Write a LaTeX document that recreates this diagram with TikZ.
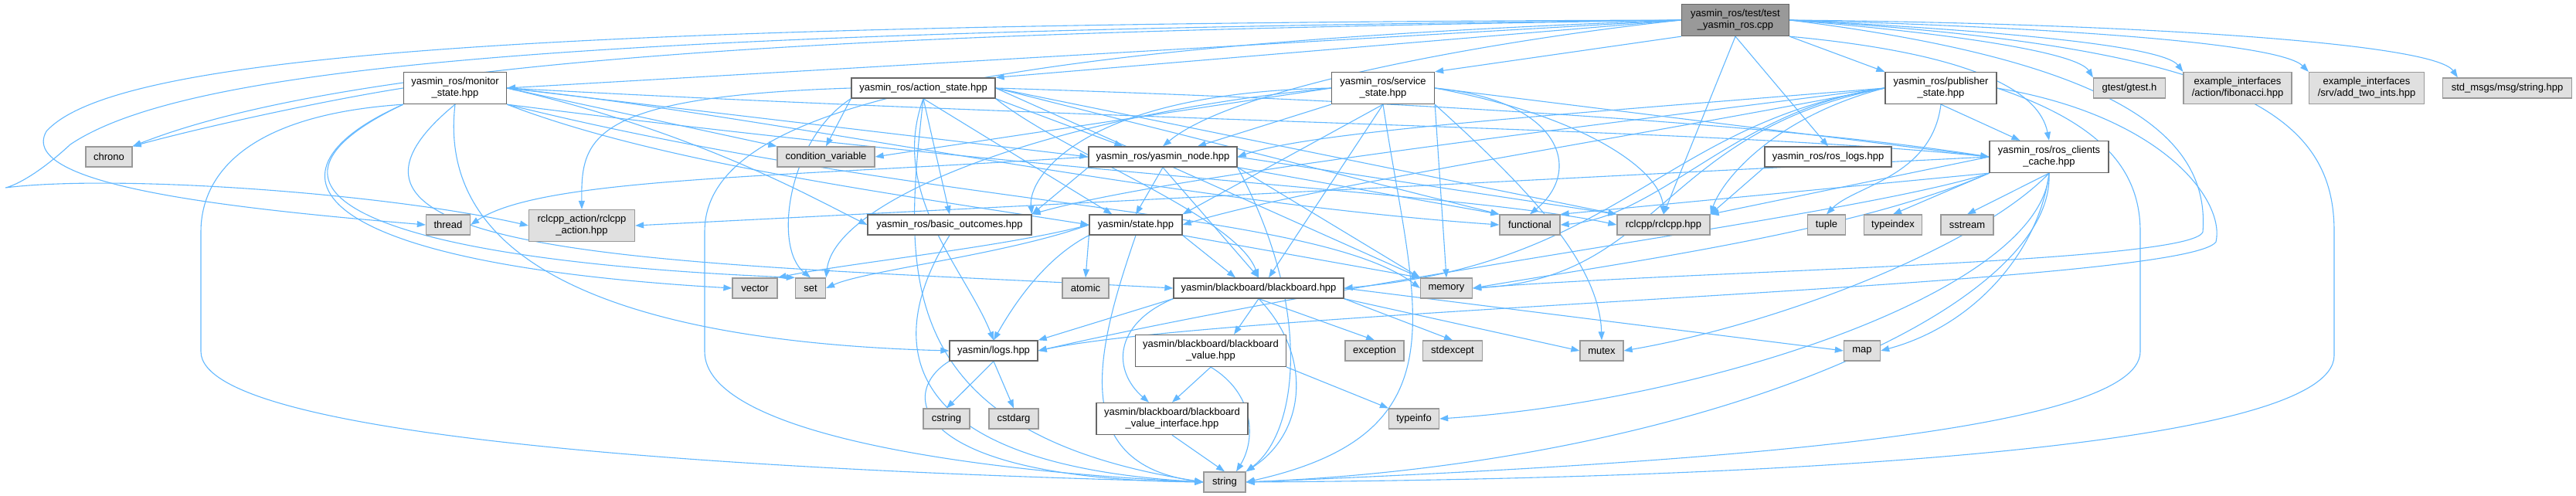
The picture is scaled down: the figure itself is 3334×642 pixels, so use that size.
\documentclass[tikz,border=0pt]{standalone}
\usepackage{fontspec}
\setmainfont{Liberation Sans}
\usetikzlibrary{arrows.meta}

\definecolor{depblue}{HTML}{63B8FF}
\definecolor{hdrline}{HTML}{666666}
\definecolor{sysfill}{HTML}{E0E0E0}
\definecolor{sysline}{HTML}{999999}
\definecolor{srcfill}{HTML}{999999}

\pgfdeclarelayer{bg}
\pgfsetlayers{bg,main}

\tikzset{
  hdr/.style={draw=hdrline, fill=white, line width=1.3pt, inner sep=0pt,
    minimum height=26pt, align=center, font=\fontsize{13}{15}\selectfont},
  sysh/.style={hdr, draw=sysline, fill=sysfill},
  srcf/.style={hdr, draw=hdrline, fill=srcfill},
  tall/.style={minimum height=41pt},
  wd/.style={minimum width=#1},
  dep/.style={draw=depblue, line width=1.1pt, -{Triangle[length=11pt,width=8pt]}}
}

\begin{document}
\begin{tikzpicture}[x=1pt, y=-1pt]
  \useasboundingbox (0,0) rectangle (3334,642);
  % 第一行
  \node[srcf, tall, wd=139] (test) at (2246,26) {yasmin\_ros/test/test\\\_yasmin\_ros.cpp};
  % 第二行
  \node[hdr, tall, wd=133] (monitor) at (589,114) {yasmin\_ros/monitor\\\_state.hpp};
  \node[hdr, wd=186] (action) at (1195,114) {yasmin\_ros/action\_state.hpp};
  \node[hdr, tall, wd=133] (service) at (1790,114) {yasmin\_ros/service\\\_state.hpp};
  \node[hdr, tall, wd=144] (publisher) at (2512,114) {yasmin\_ros/publisher\\\_state.hpp};
  \node[sysh, wd=93] (gtest) at (2756,114) {gtest/gtest.h};
  \node[sysh, tall, wd=140] (fibo) at (2896,114) {example\_interfaces\\/action/fibonacci.hpp};
  \node[sysh, tall, wd=149] (addtwo) at (3063,114) {example\_interfaces\\/srv/add\_two\_ints.hpp};
  \node[sysh, wd=167] (stdmsg) at (3245,114) {std\_msgs/msg/string.hpp};
  % 第三行
  \node[sysh, wd=60] (chrono) at (141,203) {chrono};
  \node[sysh, wd=126] (condvar) at (1069,203) {condition\_variable};
  \node[hdr, wd=192] (ynode) at (1505,203) {yasmin\_ros/yasmin\_node.hpp};
  \node[hdr, wd=164] (roslogs) at (2366,203) {yasmin\_ros/ros\_logs.hpp};
  \node[hdr, tall, wd=154] (cache) at (2652,203) {yasmin\_ros/ros\_clients\\\_cache.hpp};
  % 第四行
  \node[sysh, wd=57] (thread) at (580,291) {thread};
  \node[sysh, tall, wd=137] (rclaction) at (753,292) {rclcpp\_action/rclcpp\\\_action.hpp};
  \node[hdr, wd=212] (outcomes) at (1229,291) {yasmin\_ros/basic\_outcomes.hpp};
  \node[hdr, wd=120] (state) at (1470,291) {yasmin/state.hpp};
  \node[sysh, wd=78] (functional) at (1980,291) {functional};
  \node[sysh, wd=120] (rclcpp) at (2153,291) {rclcpp/rclcpp.hpp};
  \node[sysh, wd=49] (tuple) at (2364,291) {tuple};
  \node[sysh, wd=75] (typeindex) at (2450,291) {typeindex};
  \node[sysh, wd=68] (sstream) at (2546,291) {sstream};
  % 第五行
  \node[sysh, wd=58] (vector) at (977,373) {vector};
  \node[sysh, wd=39] (set) at (1049,373) {set};
  \node[sysh, wd=60] (atomic) at (1405,373) {atomic};
  \node[hdr, wd=220] (blackboard) at (1629,373) {yasmin/blackboard/blackboard.hpp};
  \node[sysh, wd=67] (memory) at (1872,373) {memory};
  % 第六行
  \node[hdr, wd=114] (logs) at (1286,454) {yasmin/logs.hpp};
  \node[hdr, tall, wd=195] (bbvalue) at (1567,454) {yasmin/blackboard/blackboard\\\_value.hpp};
  \node[sysh, wd=76] (exception) at (1779,454) {exception};
  \node[sysh, wd=77] (stdexcept) at (1880,454) {stdexcept};
  \node[sysh, wd=56] (mutex) at (2073,454) {mutex};
  \node[sysh, wd=47] (map) at (2410,454) {map};
  % 第七行
  \node[sysh, wd=60] (cstring) at (1225,542) {cstring};
  \node[sysh, wd=64] (cstdarg) at (1312,542) {cstdarg};
  \node[hdr, tall, wd=196] (bbiface) at (1517,542) {yasmin/blackboard/blackboard\\\_value\_interface.hpp};
  \node[sysh, wd=65] (typeinfo) at (1830,542) {typeinfo};
  \node[sysh, wd=54] (string) at (1585,624) {string};

  \begin{pgfonlayer}{bg}
  % test_yasmin_ros.cpp
  \draw[dep] (test.west) -- (monitor.east);
  \draw[dep] (test.west) -- (action.north east);
  \draw[dep] (test.south west) -- (service.north east);
  \draw[dep] (test.south east) -- (publisher.north west);
  \draw[dep] (test.east) .. controls (2550,45) and (2690,70) .. (gtest.north west);
  \draw[dep] (test.east) .. controls (2600,40) and (2800,60) .. (fibo.north west);
  \draw[dep] (test.east) .. controls (2650,35) and (2950,55) .. (addtwo.north west);
  \draw[dep] (test.east) .. controls (2750,30) and (3150,55) .. ([xshift=20]stdmsg.north west);
  \draw[dep] (test.south) -- (roslogs.north);
  \draw[dep] (test.south) -- (rclcpp.north);
  \draw[dep] (test.south east) .. controls (2560,70) and (2640,120) .. (cache.north);
  \draw[dep] (test.west) .. controls (1950,50) and (1600,110) .. (ynode.north);
  \draw[dep] (test.west) .. controls (1300,40) and (500,60) .. (chrono.north east);
  \draw[dep] (test.west) .. controls (700,30) and (150,70) .. (60,170)
    .. controls (20,240) and (300,270) .. (thread.west);
  \draw[dep] (test.west) .. controls (800,40) and (250,80) .. (91,187)
    .. controls (50,225) and (20,240) .. (7,243)
    .. controls (150,225) and (500,250) .. (rclaction.west);
  \draw[dep] (test.west) .. controls (1250,60) and (912,140) .. (912,300) -- (912,455)
    .. controls (912,560) and (1250,610) .. (string.west);
  \draw[dep] (test.east) .. controls (2900,60) and (3021,150) .. (3021,300) -- (3021,460)
    .. controls (3021,580) and (2300,620) .. (string.east);
  \draw[dep] (test.east) .. controls (2750,80) and (2860,180) .. (2851,300)
    .. controls (2840,340) and (2200,350) .. (memory.east);

  % monitor_state.hpp
  \draw[dep] (monitor.west) .. controls (420,130) and (260,165) .. (chrono.north east);
  \draw[dep] (monitor.east) -- (condvar.north west);
  \draw[dep] (monitor.east) -- (ynode.west);
  \draw[dep] (monitor.south east) .. controls (850,210) and (1150,250) .. (state.west);
  \draw[dep] (monitor.east) .. controls (900,170) and (1050,255) .. (outcomes.west);
  \draw[dep] (monitor.east) .. controls (1000,150) and (1500,260) .. (functional.west);
  \draw[dep] (monitor.south east) .. controls (1400,230) and (1900,250) .. (rclcpp.west);
  \draw[dep] (monitor.south east) .. controls (1200,270) and (1700,270) .. (memory.west);
  \draw[dep] (monitor.east) .. controls (1500,160) and (2200,165) .. (cache.west);
  \draw[dep] (monitor.south west) .. controls (330,220) and (380,340) .. (vector.west);
  \draw[dep] (monitor.south west) .. controls (300,240) and (450,335) .. (set.north west);
  \draw[dep] (monitor.south) .. controls (340,340) and (900,340) .. (blackboard.west);
  \draw[dep] (monitor.south) .. controls (560,380) and (900,445) .. (logs.west);
  \draw[dep] (monitor.south west) .. controls (300,150) and (260,240) .. (260,300) -- (260,455)
    .. controls (260,570) and (1000,610) .. (string.west);

  % action_state.hpp
  \draw[dep] (action.south west) -- (condvar.north);
  \draw[dep] (action.south east) -- ([xshift=45]ynode.north west);
  \draw[dep] (action.south) -- (outcomes.north);
  \draw[dep] (action.south) -- ([xshift=30]state.north west);
  \draw[dep] (action.west) .. controls (760,125) and (752,180) .. (rclaction.north);
  \draw[dep] (action.south west) .. controls (1020,180) and (1000,320) .. (set.north);
  \draw[dep] (action.east) -- (functional.north west);
  \draw[dep] (action.east) -- (rclcpp.north west);
  \draw[dep] (action.east) -- (memory.north west);
  \draw[dep] (action.south east) .. controls (1380,200) and (1600,280) .. (blackboard.north);
  \draw[dep] (action.east) .. controls (1800,130) and (2300,160) .. (cache.west);
  \draw[dep] (action.south) .. controls (1150,250) and (1250,350) .. (logs.north);
  \draw[dep] (action.south) .. controls (1170,350) and (1150,560) .. (string.west);

  % service_state.hpp
  \draw[dep] (service.west) -- (condvar.east);
  \draw[dep] (service.south west) -- ([xshift=45]ynode.north);
  \draw[dep] (service.west) .. controls (1400,120) and (1330,230) .. (outcomes.north east);
  \draw[dep] (service.south) -- (state.north east);
  \draw[dep] (service.east) .. controls (2020,130) and (2050,220) .. (functional.north);
  \draw[dep] (service.east) .. controls (2050,150) and (2150,220) .. (rclcpp.north);
  \draw[dep] (service.south) -- ([xshift=13]blackboard.north);
  \draw[dep] (service.south east) -- (memory.north);
  \draw[dep] (service.west) .. controls (1350,150) and (1080,260) .. (set.north east);
  \draw[dep] (service.south east) .. controls (1950,220) and (2070,330) .. (mutex.north);
  \draw[dep] (service.east) -- (cache.west);
  \draw[dep] (service.south) .. controls (1830,400) and (1900,560) .. (string.east);

  % publisher_state.hpp
  \draw[dep] (publisher.west) .. controls (2000,150) and (1700,170) .. (ynode.east);
  \draw[dep] (publisher.west) .. controls (2000,170) and (1500,230) .. (outcomes.north east);
  \draw[dep] (publisher.west) .. controls (2100,180) and (1700,240) .. (state.east);
  \draw[dep] (publisher.west) .. controls (2150,160) and (2100,340) .. (blackboard.east);
  \draw[dep] (publisher.west) .. controls (2150,170) and (2150,360) .. (memory.east);
  \draw[dep] (publisher.south) -- ([xshift=40]cache.north west);
  \draw[dep] (publisher.west) .. controls (2300,150) and (2230,230) .. (rclcpp.north east);
  \draw[dep] (publisher.west) .. controls (2250,140) and (2150,280) .. (functional.east);
  \draw[dep] (publisher.south) .. controls (2500,230) and (2400,240) .. (tuple.north);
  \draw[dep] (publisher.east) .. controls (2800,150) and (2880,260) .. (2868,313)
    .. controls (2830,370) and (1600,400) .. (logs.east);
  \draw[dep] (publisher.east) .. controls (2720,160) and (2770,220) .. (2770,300) -- (2770,455)
    .. controls (2770,560) and (2200,600) .. (string.east);

  % ros_clients_cache.hpp
  \draw[dep] (cache.west) -- (rclaction.east);
  \draw[dep] (cache.west) -- (rclcpp.north east);
  \draw[dep] (cache.south west) -- (functional.north east);
  \draw[dep] (cache.south west) -- (typeindex.north);
  \draw[dep] (cache.south) -- (sstream.north);
  \draw[dep] (cache.south west) .. controls (2400,300) and (2100,340) .. (memory.east);
  \draw[dep] (cache.south) .. controls (2560,320) and (2300,420) .. (mutex.east);
  \draw[dep] (cache.south) .. controls (2640,320) and (2560,420) .. (map.east);
  \draw[dep] (cache.south) .. controls (2640,380) and (2200,520) .. (typeinfo.east);
  \draw[dep] (cache.south west) .. controls (2400,280) and (1800,350) .. (logs.east);
  \draw[dep] (cache.south) .. controls (2660,400) and (2200,600) .. (string.east);

  % yasmin_node.hpp, ros_logs.hpp
  \draw[dep] (ynode.west) .. controls (1000,230) and (700,230) .. (thread.east);
  \draw[dep] (ynode.south west) -- (outcomes.north east);
  \draw[dep] (ynode.south) -- (state.north);
  \draw[dep] (ynode.south) -- (blackboard.north);
  \draw[dep] (ynode.south east) -- (memory.north west);
  \draw[dep] (ynode.south east) -- (functional.north west);
  \draw[dep] (ynode.east) -- (rclcpp.north west);
  \draw[dep] (ynode.south east) .. controls (1700,400) and (1680,560) .. (string.north east);
  \draw[dep] (roslogs.south west) -- (rclcpp.north east);

  % yasmin/state.hpp
  \draw[dep] (state.west) .. controls (1300,320) and (1100,340) .. (vector.north east);
  \draw[dep] (state.west) .. controls (1300,330) and (1120,350) .. (set.east);
  \draw[dep] (state.south west) -- (atomic.north);
  \draw[dep] (state.south east) -- ([xshift=-30]blackboard.north);
  \draw[dep] (state.south east) -- (memory.north west);
  \draw[dep] (state.south west) .. controls (1360,330) and (1320,380) .. (logs.north);
  \draw[dep] (state.south) .. controls (1420,450) and (1380,600) .. (string.west);

  % blackboard
  \draw[dep] (blackboard.south west) -- (logs.north east);
  \draw[dep] (blackboard.south) -- ([xshift=30]bbvalue.north);
  \draw[dep] (blackboard.south west) .. controls (1440,420) and (1440,480) .. ([xshift=-30]bbiface.north);
  \draw[dep] (blackboard.south) -- (exception.north);
  \draw[dep] (blackboard.south east) -- (stdexcept.north);
  \draw[dep] (blackboard.south east) -- (mutex.west);
  \draw[dep] (blackboard.east) -- (map.west);
  \draw[dep] (blackboard.south) .. controls (1700,460) and (1690,560) .. (string.north east);
  \draw[dep] (bbvalue.south) -- (bbiface.north);
  \draw[dep] (bbvalue.south) .. controls (1625,510) and (1625,570) .. ([xshift=15]string.north);
  \draw[dep] (bbvalue.south east) -- (typeinfo.north west);
  \draw[dep] (bbiface.south) -- (string.north);

  % logs, basic_outcomes
  \draw[dep] (logs.south) -- (cstring.north);
  \draw[dep] (logs.south) -- (cstdarg.north);
  \draw[dep] (logs.south west) .. controls (1160,510) and (1180,620) .. (string.west);
  \draw[dep] (outcomes.south) .. controls (1150,430) and (1140,600) .. (string.west);
  \end{pgfonlayer}
\end{tikzpicture}
\end{document}
